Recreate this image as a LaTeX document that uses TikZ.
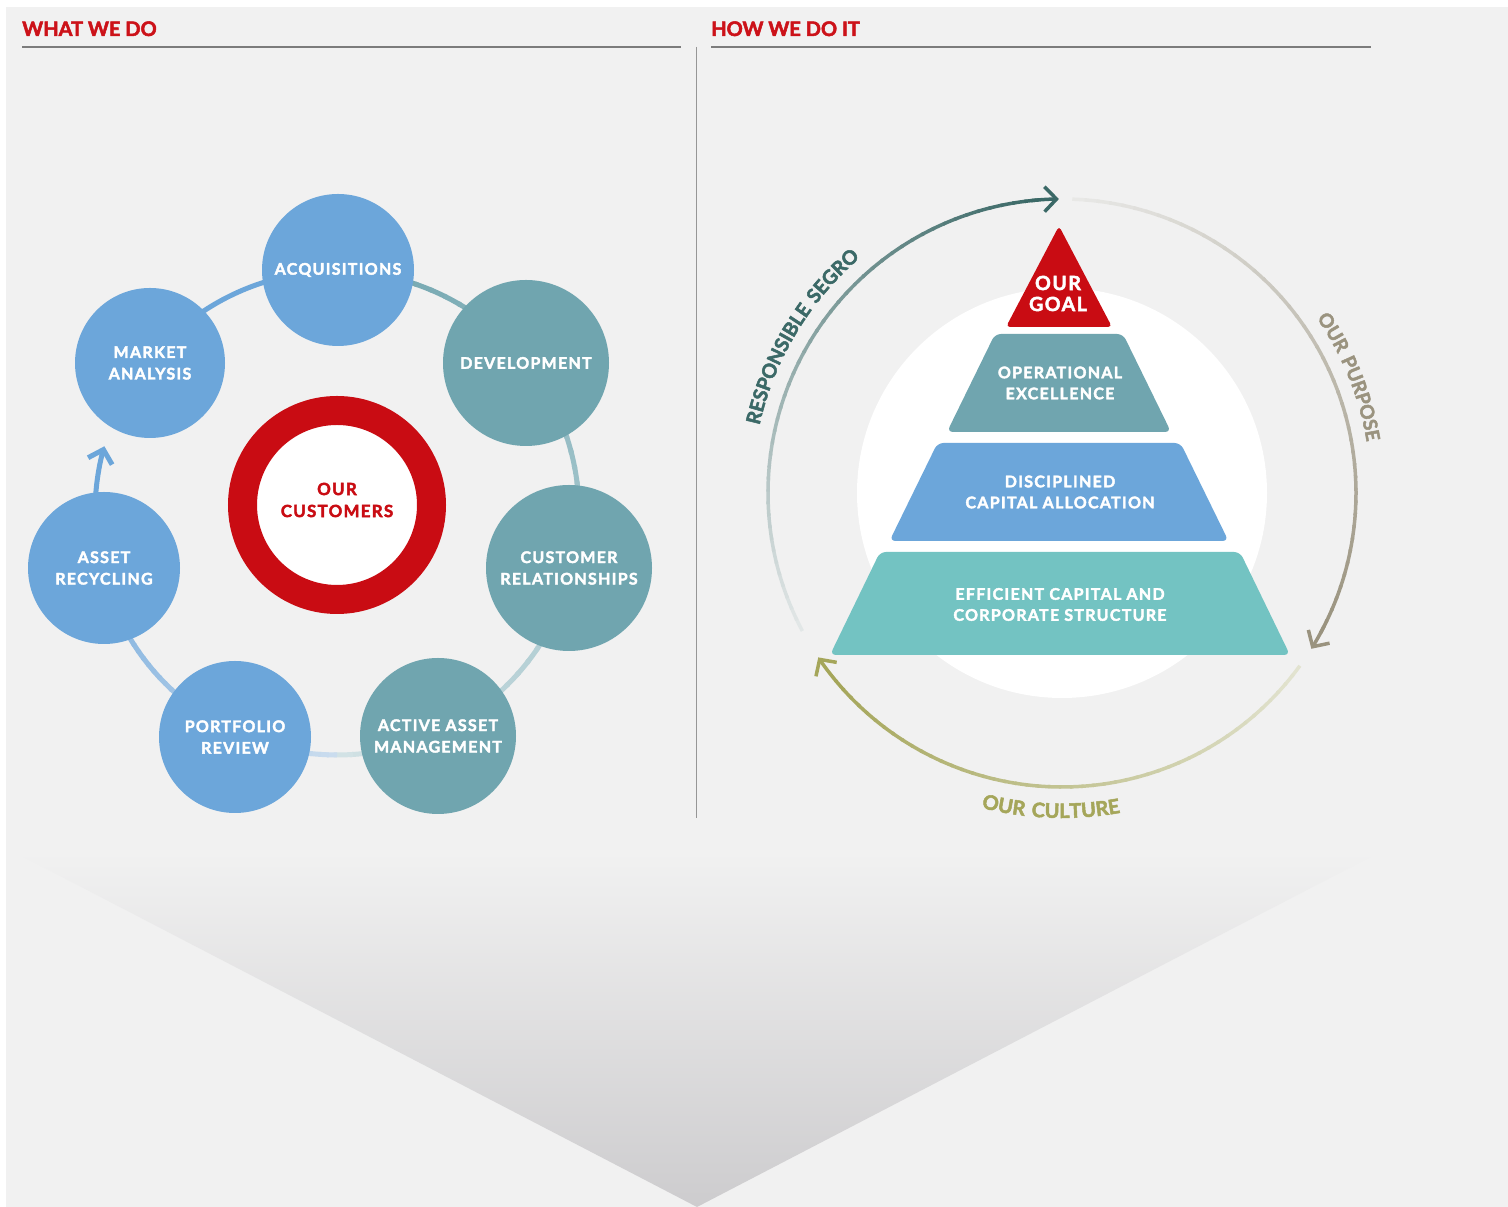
\documentclass[tikz,border=0pt]{standalone}
\usepackage{fontspec}
\setmainfont{Lato}[FakeBold=2.5]
\newfontfamily\tracked{Lato}[LetterSpace=8, FakeBold=2.5]
\newfontfamily\arcfont{Lato}[LetterSpace=10, FakeBold=2.5]
\usetikzlibrary{arrows.meta, decorations.text, positioning}

\definecolor{bggray}{HTML}{F1F1F1}
\definecolor{funnelgray}{HTML}{CDCCCE}
\definecolor{headred}{HTML}{CC1219}
\definecolor{rulegray}{HTML}{7C7C7C}
\definecolor{bluecirc}{HTML}{6CA6DA}
\definecolor{tealcirc}{HTML}{70A5AF}
\definecolor{segrored}{HTML}{C90C13}
\definecolor{effteal}{HTML}{73C3C2}
\definecolor{tealpale}{HTML}{D2E2E5}
\definecolor{bluepale}{HTML}{CADCEE}
\definecolor{rsdark}{HTML}{3B6967}
\definecolor{rspale}{HTML}{E2E7E7}
\definecolor{purposedark}{HTML}{9A937F}
\definecolor{purposepale}{HTML}{E8E8E6}
\definecolor{culturedark}{HTML}{A5A65A}
\definecolor{culturepale}{HTML}{E2E3D0}

% arc drawn in short pieces, colour going from #5 to #6
\newcommand\fadearc[7]{%
  \foreach \k in {0,...,47}{%
    \pgfmathsetmacro\angA{#3+(#4-#3)*\k/48}%
    \pgfmathsetmacro\angB{#3+(#4-#3)*(\k+1.2)/48}%
    \pgfmathtruncatemacro\mixp{100*\k/47}%
    \draw[line width=#7, color=#6!\mixp!#5] ([shift={(\angA:#2)}]#1) arc[start angle=\angA, end angle=\angB, radius=#2];
  }}

\begin{document}
\begin{tikzpicture}[x=1pt, y=1pt,
  heading/.style={anchor=base west, inner sep=0pt, text=headred, font=\bfseries\fontsize{20}{22}\selectfont},
  rule/.style={rulegray, line width=1.5pt},
  bubble/.style={circle, inner sep=0pt, text=white, align=center, font=\tracked\bfseries\fontsize{16}{21.5}\selectfont},
  tier/.style={inner sep=0pt, text=white, align=center, font=\tracked\bfseries\fontsize{16}{21}\selectfont},
  barb/.style={-{Straight Barb[length=12pt,width=25pt]}}]
\useasboundingbox (0,0) rectangle (1508,1207);
\fill[white] (0,0) rectangle (1508,1207);
\fill[bggray] (6,0) rectangle (1508,1200);
\shade[top color=bggray, bottom color=funnelgray] (14,355) -- (1380,355) -- (697,0) -- cycle;

% headings
\node[heading] (whatdo) at (22,1171) {WHAT WE DO};
\node[heading] (howdo) at (711,1171) {HOW WE DO IT};
\draw[rule] (22,1160) -- (681,1160);
\draw[rule] (711,1160) -- (1371,1160);
\draw[rulegray!80, line width=1pt] (696,1160) -- (696,389);

% what we do
\coordinate (ring) at (337,694);
\fadearc{ring}{242}{90}{-90}{tealcirc}{tealpale}{5}
\fadearc{ring}{242}{-90}{-184}{bluepale}{bluecirc}{5}
\draw[bluecirc, line width=5, barb] ([shift={(-184:242)}]ring) arc[start angle=-184, end angle=-196, radius=242];
\draw[bluecirc, line width=5] ([shift={(-203:242)}]ring) arc[start angle=-203, end angle=-270, radius=242];

\node[bubble, fill=bluecirc, minimum size=152pt] (acq) at (338,937) {ACQUISITIONS};
\node[bubble, fill=bluecirc, minimum size=150pt] (market) at (150,844) {MARKET\\ANALYSIS};
\node[bubble, fill=tealcirc, minimum size=166pt] (devel) at (526,844) {DEVELOPMENT};
\node[bubble, fill=tealcirc, minimum size=166pt] (custrel) at (569,639) {CUSTOMER\\RELATIONSHIPS};
\node[bubble, fill=tealcirc, minimum size=156pt] (activeam) at (438,471) {ACTIVE ASSET\\MANAGEMENT};
\node[bubble, fill=bluecirc, minimum size=152pt] (portrev) at (235,470) {PORTFOLIO\\REVIEW};
\node[bubble, fill=bluecirc, minimum size=152pt] (assetrec) at (104,639) {ASSET\\RECYCLING};
\node[circle, draw=segrored, line width=29pt, fill=white, minimum size=189pt, inner sep=0pt] (customers) at (337,702) {};
\node[bubble, text=segrored, font=\tracked\bfseries\fontsize{16.8}{22}\selectfont] (custtext) at (337,707) {OUR\\CUSTOMERS};

% how we do it
\coordinate (hub) at (1062,714);
\fill[white] (hub) circle[radius=205];

\fadearc{hub}{294}{208}{95}{rspale}{rsdark}{3.5}
\draw[rsdark, line width=3.5, barb] ([shift={(96:294)}]hub) arc[start angle=96, end angle=90.6, radius=294];
\fadearc{hub}{294}{88}{-28}{purposepale}{purposedark}{3.5}
\draw[purposedark, line width=3.5, barb] ([shift={(-27:294)}]hub) arc[start angle=-27, end angle=-32, radius=294];
\fadearc{hub}{294}{-36}{-140}{culturepale}{culturedark}{3.5}
\draw[culturedark, line width=3.5, barb] ([shift={(-140:294)}]hub) arc[start angle=-140, end angle=-146, radius=294];

\path[decorate, decoration={text along path, text align=center,
  text={|\arcfont\bfseries\fontsize{19.5}{22}\selectfont\color{rsdark}|RESPONSIBLE SEGRO}}]
  ([shift={(182:310)}]hub) arc[start angle=182, end angle=116, radius=310];
\path[decorate, decoration={text along path, text align=center,
  text={|\arcfont\bfseries\fontsize{19}{21}\selectfont\color{purposedark}|OUR PURPOSE}}]
  ([shift={(55:309)}]hub) arc[start angle=55, end angle=-11, radius=309];
\path[decorate, decoration={text along path, text align=center,
  text={|\arcfont\bfseries\fontsize{20}{22}\selectfont\color{culturedark}|OUR CULTURE}}]
  ([shift={(-125:325)}]hub) arc[start angle=-125, end angle=-59, radius=325];

% pyramid
\fill[segrored, rounded corners=4pt] (1059,981) -- (1112,880) -- (1006,880) -- cycle;
\fill[tealcirc, rounded corners=6pt] (995,873) -- (1123,873) -- (1171,775) -- (947,775) -- cycle;
\fill[bluecirc, rounded corners=6pt] (937.5,764) -- (1180.5,764) -- (1228.5,666) -- (889.5,666) -- cycle;
\fill[effteal, rounded corners=6pt] (880,655) -- (1240,655) -- (1290,552) -- (830,552) -- cycle;

\node[tier, font=\tracked\bfseries\fontsize{19.5}{21}\selectfont] (goal) at (1058,913.5) {OUR\\GOAL};
\node[tier] (operex) at (1060,824) {OPERATIONAL\\EXCELLENCE};
\node[tier] (discap) at (1060,715) {DISCIPLINED\\CAPITAL ALLOCATION};
\node[tier] (effcap) at (1060,602.5) {EFFICIENT CAPITAL AND\\CORPORATE STRUCTURE};
\end{tikzpicture}
\end{document}
